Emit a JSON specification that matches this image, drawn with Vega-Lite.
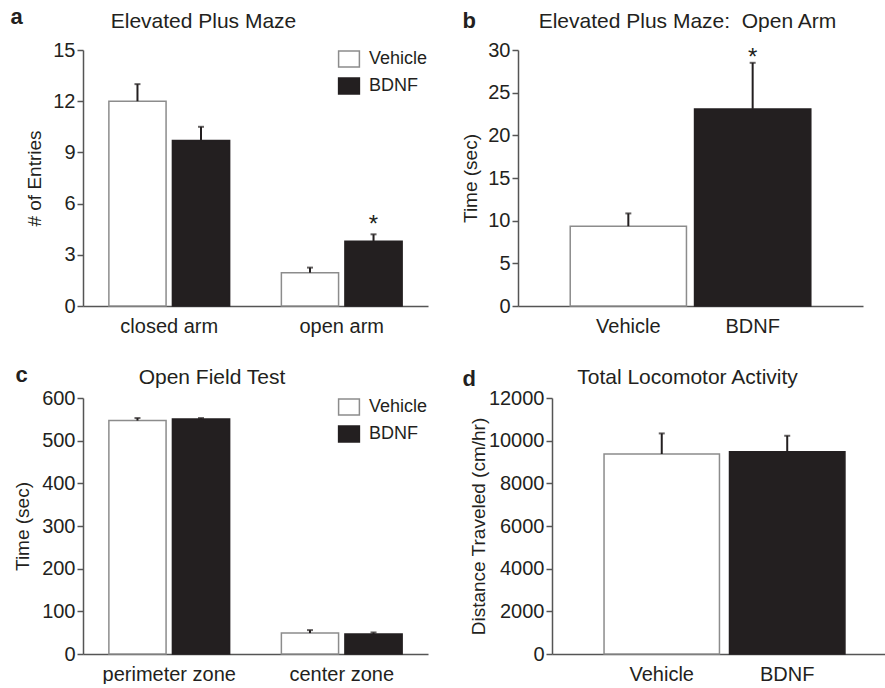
{
  "$schema": "https://vega.github.io/schema/vega-lite/v6.json",
  "padding": {"left": 10, "top": 5, "right": 0, "bottom": 0},
  "config": {
    "font": "Liberation Sans",
    "view": {"stroke": null},
    "axis": {"grid": false, "domainColor": "#555555", "domainWidth": 1.5, "tickColor": "#555555", "tickWidth": 1.5, "tickSize": 6, "labelFont": "Liberation Sans", "labelFontSize": 20, "labelColor": "#231f20", "titleFont": "Liberation Sans", "titleFontSize": 19, "titleFontWeight": "normal", "titleColor": "#231f20", "labelPadding": 2},
    "axisX": {"ticks": false, "labelAngle": 0, "labelPadding": 10},
    "title": {"fontSize": 21, "fontWeight": "normal", "color": "#231f20", "font": "Liberation Sans", "baseline": "alphabetic", "anchor": "middle"},
    "legend": {"orient": "top-right", "offset": 0, "padding": 0, "symbolType": "M-1.3,-1H1.3V1H-1.3Z", "symbolSize": 256, "symbolStrokeWidth": 1.5, "labelFontSize": 18, "labelFont": "Liberation Sans", "labelColor": "#231f20", "labelOffset": 11, "rowPadding": 5}
  },
  "datasets": {
    "entries": [
      {"arm": "closed arm", "group": "Vehicle", "mean": 12.0, "upper": 13.0, "sig": ""},
      {"arm": "closed arm", "group": "BDNF", "mean": 9.7, "upper": 10.5, "sig": ""},
      {"arm": "open arm", "group": "Vehicle", "mean": 1.95, "upper": 2.25, "sig": ""},
      {"arm": "open arm", "group": "BDNF", "mean": 3.8, "upper": 4.2, "sig": "*"}
    ],
    "opentime": [
      {"group": "Vehicle", "mean": 9.35, "upper": 10.85, "sig": ""},
      {"group": "BDNF", "mean": 23.1, "upper": 28.5, "sig": "*"}
    ],
    "openfield": [
      {"zone": "perimeter zone", "group": "Vehicle", "mean": 547, "upper": 553, "sig": ""},
      {"zone": "perimeter zone", "group": "BDNF", "mean": 551, "upper": 553, "sig": ""},
      {"zone": "center zone", "group": "Vehicle", "mean": 49, "upper": 56, "sig": ""},
      {"zone": "center zone", "group": "BDNF", "mean": 47, "upper": 50.5, "sig": ""}
    ],
    "locomotor": [
      {"group": "Vehicle", "mean": 9375, "upper": 10340, "sig": ""},
      {"group": "BDNF", "mean": 9480, "upper": 10230, "sig": ""}
    ]
  },
  "spacing": 27,
  "resolve": {"scale": {"fill": "independent", "stroke": "independent"}, "legend": {"fill": "independent", "stroke": "independent"}},
  "vconcat": [
    {
      "bounds": "flush",
      "spacing": 90,
      "resolve": {"scale": {"fill": "independent", "stroke": "independent"}, "legend": {"fill": "independent", "stroke": "independent"}},
      "hconcat": [
        {
          "width": 345, "height": 256,
          "data": {"name": "entries"},
          "title": {"text": "Elevated Plus Maze", "dx": -52, "offset": -26.6},
          "encoding": {
            "x": {"field": "arm", "type": "nominal", "sort": ["closed arm", "open arm"], "scale": {"paddingInner": 0.3, "paddingOuter": 0.15}, "axis": {"title": null}},
            "xOffset": {"field": "group", "type": "nominal", "sort": ["Vehicle", "BDNF"], "scale": {"paddingInner": 0.1, "paddingOuter": 0}}
          },
          "layer": [
            {"mark": {"type": "bar", "strokeWidth": 1.5},
             "encoding": {
               "y": {"field": "mean", "type": "quantitative", "scale": {"domain": [0, 15], "nice": false}, "axis": {"values": [0, 3, 6, 9, 12, 15], "title": "# of Entries", "titlePadding": 8}},
               "fill": {"field": "group", "type": "nominal", "scale": {"domain": ["Vehicle", "BDNF"], "range": ["#ffffff", "#231f20"]}, "legend": {"title": null}},
               "stroke": {"field": "group", "type": "nominal", "scale": {"domain": ["Vehicle", "BDNF"], "range": ["#8c8c8c", "#231f20"]}, "legend": {"title": null}}
             }},
            {"mark": {"type": "rule", "color": "#231f20", "strokeWidth": 2},
             "encoding": {
               "y": {"field": "mean", "type": "quantitative", "axis": {"orient": "left", "title": "a", "domain": false, "ticks": false, "labels": false, "titleAngle": 0, "titleX": -73, "titleY": -27, "titleAlign": "left", "titleBaseline": "alphabetic", "titleFontWeight": "bold", "titleFontSize": 22}},
               "y2": {"field": "upper"}
             }},
            {"mark": {"type": "tick", "color": "#231f20", "size": 6, "thickness": 2},
             "encoding": {"y": {"field": "upper", "type": "quantitative", "axis": null}}},
            {"transform": [{"filter": "datum.sig === '*'"}],
             "mark": {"type": "text", "fontSize": 24, "baseline": "alphabetic", "dy": -2, "color": "#231f20"},
             "encoding": {"y": {"field": "upper", "type": "quantitative", "axis": null}, "text": {"field": "sig"}}}
          ],
          "resolve": {"axis": {"y": "independent"}}
        },
        {
          "width": 345, "height": 256,
          "data": {"name": "opentime"},
          "title": {"text": "Elevated Plus Maze:\u00a0 Open Arm", "dx": -3, "offset": -22.6},
          "encoding": {
            "x": {"field": "group", "type": "nominal", "sort": ["Vehicle", "BDNF"], "scale": {"paddingInner": 0.065, "paddingOuter": 0.42}, "axis": {"title": null}}
          },
          "layer": [
            {"mark": {"type": "bar", "strokeWidth": 1.5},
             "encoding": {
               "y": {"field": "mean", "type": "quantitative", "scale": {"domain": [0, 30], "nice": false}, "axis": {"values": [0, 5, 10, 15, 20, 25, 30], "title": "Time (sec)", "titlePadding": 7}},
               "fill": {"field": "group", "type": "nominal", "scale": {"domain": ["Vehicle", "BDNF"], "range": ["#ffffff", "#231f20"]}, "legend": null},
               "stroke": {"field": "group", "type": "nominal", "scale": {"domain": ["Vehicle", "BDNF"], "range": ["#8c8c8c", "#231f20"]}, "legend": null}
             }},
            {"mark": {"type": "rule", "color": "#231f20", "strokeWidth": 2},
             "encoding": {
               "y": {"field": "mean", "type": "quantitative", "axis": {"orient": "left", "title": "b", "domain": false, "ticks": false, "labels": false, "titleAngle": 0, "titleX": -56, "titleY": -23, "titleAlign": "left", "titleBaseline": "alphabetic", "titleFontWeight": "bold", "titleFontSize": 22}},
               "y2": {"field": "upper"}
             }},
            {"mark": {"type": "tick", "color": "#231f20", "size": 6, "thickness": 2},
             "encoding": {"y": {"field": "upper", "type": "quantitative", "axis": null}}},
            {"transform": [{"filter": "datum.sig === '*'"}],
             "mark": {"type": "text", "fontSize": 24, "baseline": "alphabetic", "dy": 2, "color": "#231f20"},
             "encoding": {"y": {"field": "upper", "type": "quantitative", "axis": null}, "text": {"field": "sig"}}}
          ],
          "resolve": {"axis": {"y": "independent"}}
        }
      ]
    },
    {
      "bounds": "flush",
      "spacing": 124,
      "resolve": {"scale": {"fill": "independent", "stroke": "independent"}, "legend": {"fill": "independent", "stroke": "independent"}},
      "hconcat": [
        {
          "width": 345, "height": 256,
          "data": {"name": "openfield"},
          "title": {"text": "Open Field Test", "dx": -43.5, "offset": -24.6},
          "encoding": {
            "x": {"field": "zone", "type": "nominal", "sort": ["perimeter zone", "center zone"], "scale": {"paddingInner": 0.3, "paddingOuter": 0.15}, "axis": {"title": null}},
            "xOffset": {"field": "group", "type": "nominal", "sort": ["Vehicle", "BDNF"], "scale": {"paddingInner": 0.1, "paddingOuter": 0}}
          },
          "layer": [
            {"mark": {"type": "bar", "strokeWidth": 1.5},
             "encoding": {
               "y": {"field": "mean", "type": "quantitative", "scale": {"domain": [0, 600], "nice": false}, "axis": {"values": [0, 100, 200, 300, 400, 500, 600], "title": "Time (sec)", "titlePadding": 9}},
               "fill": {"field": "group", "type": "nominal", "scale": {"domain": ["Vehicle", "BDNF"], "range": ["#ffffff", "#231f20"]}, "legend": {"title": null}},
               "stroke": {"field": "group", "type": "nominal", "scale": {"domain": ["Vehicle", "BDNF"], "range": ["#8c8c8c", "#231f20"]}, "legend": {"title": null}}
             }},
            {"mark": {"type": "rule", "color": "#231f20", "strokeWidth": 2},
             "encoding": {
               "y": {"field": "mean", "type": "quantitative", "axis": {"orient": "left", "title": "c", "domain": false, "ticks": false, "labels": false, "titleAngle": 0, "titleX": -68, "titleY": -17, "titleAlign": "left", "titleBaseline": "alphabetic", "titleFontWeight": "bold", "titleFontSize": 22}},
               "y2": {"field": "upper"}
             }},
            {"mark": {"type": "tick", "color": "#231f20", "size": 6, "thickness": 2},
             "encoding": {"y": {"field": "upper", "type": "quantitative", "axis": null}}}
          ],
          "resolve": {"axis": {"y": "independent"}}
        },
        {
          "width": 333, "height": 256,
          "data": {"name": "locomotor"},
          "title": {"text": "Total Locomotor Activity", "dx": -31, "offset": -20.6},
          "encoding": {
            "x": {"field": "group", "type": "nominal", "sort": ["Vehicle", "BDNF"], "scale": {"paddingInner": 0.08, "paddingOuter": 0.367, "align": 0.565}, "axis": {"title": null}}
          },
          "layer": [
            {"mark": {"type": "bar", "strokeWidth": 1.5},
             "encoding": {
               "y": {"field": "mean", "type": "quantitative", "scale": {"domain": [0, 12000], "nice": false}, "axis": {"values": [0, 2000, 4000, 6000, 8000, 10000, 12000], "format": "d", "title": "Distance Traveled (cm/hr)", "titlePadding": 0}},
               "fill": {"field": "group", "type": "nominal", "scale": {"domain": ["Vehicle", "BDNF"], "range": ["#ffffff", "#231f20"]}, "legend": null},
               "stroke": {"field": "group", "type": "nominal", "scale": {"domain": ["Vehicle", "BDNF"], "range": ["#8c8c8c", "#231f20"]}, "legend": null}
             }},
            {"mark": {"type": "rule", "color": "#231f20", "strokeWidth": 2},
             "encoding": {
               "y": {"field": "mean", "type": "quantitative", "axis": {"orient": "left", "title": "d", "domain": false, "ticks": false, "labels": false, "titleAngle": 0, "titleX": -90, "titleY": -13, "titleAlign": "left", "titleBaseline": "alphabetic", "titleFontWeight": "bold", "titleFontSize": 22}},
               "y2": {"field": "upper"}
             }},
            {"mark": {"type": "tick", "color": "#231f20", "size": 6, "thickness": 2},
             "encoding": {"y": {"field": "upper", "type": "quantitative", "axis": null}}}
          ],
          "resolve": {"axis": {"y": "independent"}}
        }
      ]
    }
  ]
}
